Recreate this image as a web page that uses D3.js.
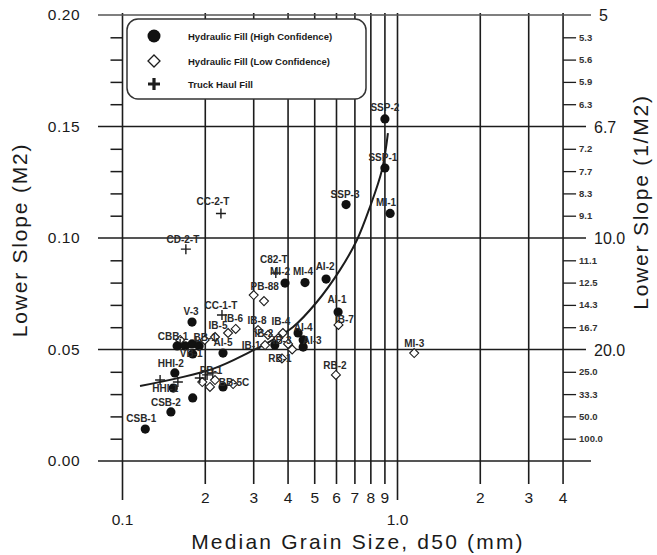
<!DOCTYPE html>
<html>
<head>
<meta charset="utf-8">
<script src="https://cdn.jsdelivr.net/npm/d3@7/dist/d3.min.js"></script>
<style>
  body { margin: 0; background: #fff; }
  svg { display: block; }
  text { font-family: "Liberation Sans", Arial, sans-serif; fill: #1a1a1a; }
  .pt-label { font-size: 10px; font-weight: bold; fill: #2a2a2a; }
</style>
</head>
<body>
<svg id="chart" width="657" height="555"></svg>
<script>
// ---- data ----
const xGridValues = [0.1, 0.2, 0.3, 0.4, 0.5, 0.6, 0.7, 0.8, 0.9, 1, 2, 3, 4];
const xTickLabels = ["0.1", "2", "3", "4", "5", "6", "7", "8", "9", "1.0", "2", "3", "4"];
const yMajorValues = [0, 0.05, 0.10, 0.15, 0.20];
const yMajorLabels = ["0.00", "0.05", "0.10", "0.15", "0.20"];
const rightTickValues = [0.01, 0.02, 0.03, 0.04, 0.05, 0.06, 0.07, 0.08, 0.09, 0.10,
                         0.11, 0.12, 0.13, 0.14, 0.15, 0.16, 0.17, 0.18, 0.19, 0.20];
const rightTickLabels = ["100.0", "50.0", "33.3", "25.0", "20.0", "16.7", "14.3", "12.5", "11.1", "10.0",
                         "9.1", "8.3", "7.7", "7.2", "6.7", "6.3", "5.9", "5.6", "5.3", "5"];

// hydraulic fill, high confidence
const highLabels = ["CSB-1", "CSB-2", "HHI-2", "HHI-1", "", "BB-5C", "V-3", "CBB-1", "VB-1", "", "BB-1", "",
                    "AI-5", "", "AI-4", "AI-3", "", "MI-2", "MI-4", "AI-2", "AI-1", "SSP-3", "SSP-2", "SSP-1", "MI-1"];
const highD50 = [0.121, 0.150, 0.155, 0.153, 0.180, 0.232, 0.179, 0.158, 0.169, 0.179, 0.190, 0.180,
                 0.232, 0.435, 0.454, 0.454, 0.358, 0.39, 0.461, 0.55, 0.608, 0.65, 0.90, 0.90, 0.94];
const highM2 = [0.0143, 0.022, 0.0395, 0.0327, 0.0283, 0.0332, 0.0623, 0.0516, 0.0516, 0.0525, 0.0516, 0.048,
                0.0484, 0.0574, 0.0543, 0.0511, 0.052, 0.0798, 0.080, 0.0816, 0.0668, 0.115, 0.1534, 0.1314, 0.111];

// hydraulic fill, low confidence
const lowLabels = ["PB-88", "", "IB-8", "IB-4", "IB-2", "", "IB-3", "", "IB-1", "RB-1", "IB-7", "MI-3", "RB-2",
                   "IB-6", "IB-5", "", "", "", "", "PB-1", "", ""];
const lowD50 = [0.30, 0.327, 0.311, 0.383, 0.338, 0.368, 0.40, 0.414, 0.33, 0.38, 0.61, 1.15, 0.597,
                0.258, 0.242, 0.217, 0.195, 0.208, 0.2525, 0.217, 0.162, 0.199];
const lowM2 = [0.0744, 0.0717, 0.0587, 0.0574, 0.0565, 0.055, 0.0525, 0.050, 0.052, 0.046, 0.061, 0.0484, 0.0386,
               0.0592, 0.0574, 0.0556, 0.0354, 0.0332, 0.0345, 0.0363, 0.0543, 0.0543];

// truck haul fill
const truckLabels = ["CC-2-T", "CD-2-T", "CC-1-T", "C82-T", "", "", "", "", "", "", ""];
const truckD50 = [0.228, 0.17, 0.23, 0.361, 0.137, 0.159, 0.191, 0.203, 0.213, 0.162, 0.185];
const truckM2 = [0.111, 0.095, 0.0655, 0.0843, 0.0363, 0.0354, 0.0372, 0.0386, 0.0395, 0.0525, 0.0534];

// fitted trend line
const curveD50 = [0.1158, 0.213, 0.291, 0.352, 0.417, 0.509, 0.618, 0.712, 0.794, 0.878, 0.923];
const curveM2 = [0.0336, 0.0413, 0.0489, 0.0543, 0.0601, 0.0713, 0.0857, 0.0991, 0.1139, 0.1305, 0.147];

const legendLabels = ["Hydraulic Fill (High Confidence)", "Hydraulic Fill (Low Confidence)", "Truck Haul Fill"];

// ---- scales ----
const x = d3.scaleLog().domain([0.1, 1]).range([122.5, 397.5]);
const y = d3.scaleLinear().domain([0, 0.2]).range([461, 15]);

const svg = d3.select("#chart");
const ink = "#1c1c1c";

// vertical grid (log decades)
svg.append("g").selectAll("line")
  .data(xGridValues)
  .join("line")
    .attr("x1", d => x(d)).attr("x2", d => x(d))
    .attr("y1", y(0.2) - 2)
    .attr("y2", d => (d === 0.1 || d === 1) ? 500 : 484)
    .attr("stroke", ink).attr("stroke-width", 1.6);

// horizontal grid at the major values
svg.append("g").selectAll("line")
  .data(yMajorValues)
  .join("line")
    .attr("x1", 98)
    .attr("x2", d => (d === 0 || d === 0.2) ? 591 : 586)
    .attr("y1", d => y(d)).attr("y2", d => y(d))
    .attr("stroke", d => d === 0.2 ? "#555" : ink)
    .attr("stroke-width", d => d === 0.2 ? 1.3 : 1.6);

// left minor ticks
const leftAxis = d3.axisLeft(y).tickValues(rightTickValues.filter(v => Math.round(v * 100) % 5 !== 0))
  .tickSize(12).tickFormat("");
svg.append("g").attr("transform", `translate(${x(0.1)},0)`).call(leftAxis)
  .call(g => g.select(".domain").remove())
  .call(g => g.selectAll("line").attr("stroke", ink).attr("stroke-width", 1.5));

// left labels
svg.append("g").selectAll("text")
  .data(yMajorValues)
  .join("text")
    .attr("x", 80).attr("y", d => y(d) + 5)
    .attr("text-anchor", "end")
    .style("font-size", "15.5px")
    .style("letter-spacing", "0.5px")
    .text((d, i) => yMajorLabels[i]);

// right minor ticks and labels
const rightMinor = rightTickValues.map((v, i) => ({ v, label: rightTickLabels[i] }))
  .filter(d => Math.round(d.v * 100) % 5 !== 0);
const rightMajor = rightTickValues.map((v, i) => ({ v, label: rightTickLabels[i] }))
  .filter(d => Math.round(d.v * 100) % 5 === 0);

const rightAxis = d3.axisRight(y).tickValues(rightMinor.map(d => d.v)).tickSize(13).tickFormat("");
svg.append("g").attr("transform", `translate(${x(4)},0)`).call(rightAxis)
  .call(g => g.select(".domain").remove())
  .call(g => g.selectAll("line").attr("stroke", ink).attr("stroke-width", 1.3));

svg.append("g").selectAll("text")
  .data(rightMinor)
  .join("text")
    .attr("x", x(4) + 16).attr("y", d => y(d.v) + 3.5)
    .style("font-size", "9.5px").style("font-weight", "bold").style("fill", "#333")
    .text(d => d.label);

svg.append("g").selectAll("text")
  .data(rightMajor)
  .join("text")
    .attr("x", d => d.label === "5" ? 599 : 594).attr("y", d => y(d.v) + 6)
    .style("font-size", "16px")
    .text(d => d.label);

// x tick labels
svg.append("g").selectAll("text")
  .data(xGridValues)
  .join("text")
    .attr("x", d => x(d))
    .attr("y", d => (d === 0.1 || d === 1) ? 525 : 503)
    .attr("text-anchor", "middle")
    .style("font-size", "15.5px")
    .text((d, i) => xTickLabels[i]);

// axis titles
svg.append("text")
  .attr("x", 358).attr("y", 549)
  .attr("text-anchor", "middle")
  .style("font-size", "21px").style("letter-spacing", "2.2px")
  .text("Median Grain Size, d50 (mm)");

svg.append("text")
  .attr("transform", "translate(27,240) rotate(-90)")
  .attr("text-anchor", "middle")
  .style("font-size", "21px").style("letter-spacing", "1.8px")
  .text("Lower Slope (M2)");

svg.append("text")
  .attr("transform", "translate(648,202) rotate(-90)")
  .attr("text-anchor", "middle")
  .style("font-size", "21px").style("letter-spacing", "1.8px")
  .text("Lower Slope (1/M2)");

// trend line
const curvePts = curveD50.map((d, i) => [d, curveM2[i]]);
svg.append("path")
  .datum(curvePts)
  .attr("fill", "none").attr("stroke", ink).attr("stroke-width", 2)
  .attr("d", d3.line().x(d => x(d[0])).y(d => y(d[1])).curve(d3.curveCatmullRom));

// marker shapes
const diamond = s => `M0,${-s}L${s},0L0,${s}L${-s},0Z`;
const plus = s => `M${-s},0H${s}M0,${-s}V${s}`;

const high = highD50.map((d, i) => ({ d, m: highM2[i], label: highLabels[i] }));
const low = lowD50.map((d, i) => ({ d, m: lowM2[i], label: lowLabels[i] }));
const truck = truckD50.map((d, i) => ({ d, m: truckM2[i], label: truckLabels[i] }));

svg.append("g").selectAll("path")
  .data(low)
  .join("path")
    .attr("transform", p => `translate(${x(p.d)},${y(p.m)})`)
    .attr("d", diamond(4.5))
    .attr("fill", "#fff").attr("stroke", ink).attr("stroke-width", 1.1);

svg.append("g").selectAll("path")
  .data(truck)
  .join("path")
    .attr("transform", p => `translate(${x(p.d)},${y(p.m)})`)
    .attr("d", plus(5))
    .attr("fill", "none").attr("stroke", ink).attr("stroke-width", 1.4);

svg.append("g").selectAll("circle")
  .data(high)
  .join("circle")
    .attr("cx", p => x(p.d)).attr("cy", p => y(p.m))
    .attr("r", 4.6)
    .attr("fill", "#111");

// point labels; nudges in px (dx, dy) from the marker
const nudge = {
  "CSB-1": [-4, -7], "CSB-2": [-5, -6], "HHI-2": [-4, -6], "HHI-1": [-8, 4], "BB-5C": [11, -1],
  "V-3": [-1, -7], "CBB-1": [-4, -6], "VB-1": [6, 11], "BB-1": [6, -5],
  "AI-5": [0, -7], "AI-4": [0, -9], "AI-3": [9, -3], "MI-2": [-5, -8], "MI-4": [-2, -8],
  "AI-2": [-1, -9], "AI-1": [-1, -9], "SSP-3": [-1, -7], "SSP-2": [0, -8], "SSP-1": [-2, -7], "MI-1": [-4, -7],
  "PB-88": [11, -5], "IB-8": [-1, -6], "IB-4": [-2, -8], "IB-2": [-4, 2], "IB-3": [-6, 0], "IB-1": [-14, 4],
  "RB-1": [-2, 4], "IB-7": [6, -2], "MI-3": [0, -6], "RB-2": [-1, -6], "IB-6": [-2, -7], "IB-5": [-10, -4],
  "PB-1": [-4, -6], "CC-2-T": [-8, -8], "CD-2-T": [-3, -6], "CC-1-T": [-1, -6], "C82-T": [-2, -10]
};
const allPts = high.concat(low, truck).filter(p => p.label !== "");
svg.append("g").selectAll("text")
  .data(allPts)
  .join("text")
    .attr("class", "pt-label")
    .attr("x", p => x(p.d) + (nudge[p.label] ? nudge[p.label][0] : 0))
    .attr("y", p => y(p.m) + (nudge[p.label] ? nudge[p.label][1] : -7))
    .attr("text-anchor", "middle")
    .text(p => p.label);

// legend
const legend = svg.append("g");
legend.append("rect")
  .attr("x", 127).attr("y", 19).attr("width", 239).attr("height", 80)
  .attr("rx", 11).attr("fill", "#fff").attr("stroke", "#333").attr("stroke-width", 1.5);
const rows = legend.selectAll("g")
  .data(legendLabels)
  .join("g")
    .attr("transform", (d, i) => `translate(154,${[36, 61, 84][i]})`);
rows.filter((d, i) => i === 0).append("circle").attr("r", 6.5).attr("fill", "#111");
rows.filter((d, i) => i === 1).append("path").attr("d", diamond(6))
  .attr("fill", "#fff").attr("stroke", ink).attr("stroke-width", 1.3);
rows.filter((d, i) => i === 2).append("path").attr("d", plus(6))
  .attr("stroke", ink).attr("stroke-width", 3.2);
rows.append("text")
  .attr("x", 34).attr("y", 3.5)
  .style("font-size", "9.5px").style("font-weight", "bold")
  .text(d => d);
</script>
</body>
</html>
